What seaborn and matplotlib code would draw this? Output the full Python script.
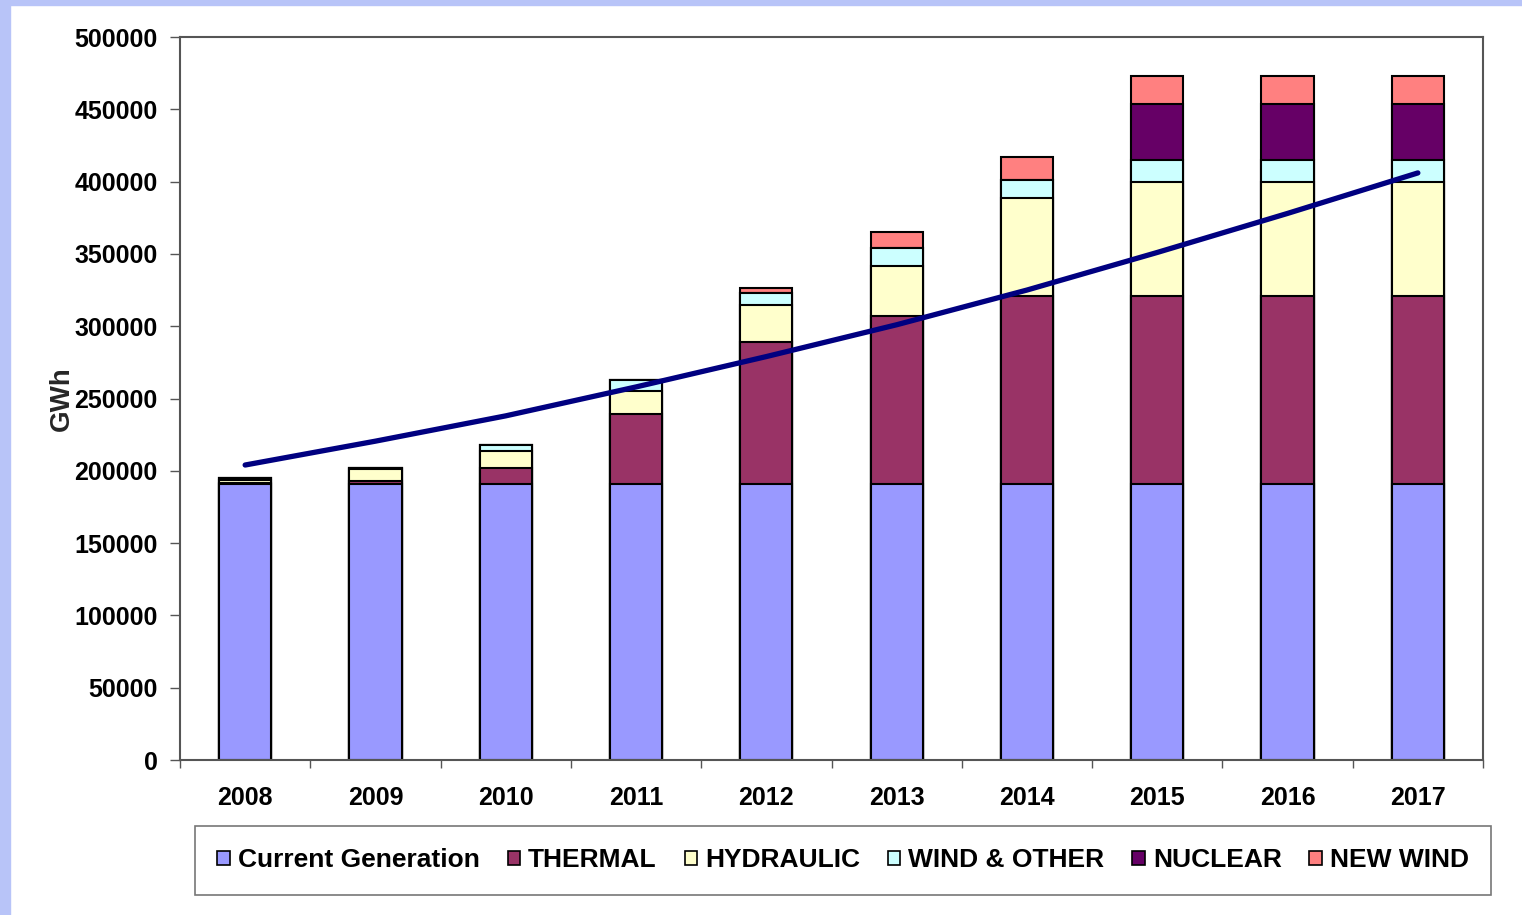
'''
Electricity generation forecast - stacked bars by source with demand line
'''
import numpy as np
import matplotlib
matplotlib.use('Agg')
import matplotlib.pyplot as plt
from matplotlib.patches import Patch, Rectangle
import seaborn as sns

years = ['2008', '2009', '2010', '2011', '2012', '2013', '2014', '2015', '2016', '2017']
current = [191000] * 10
thermal = [500, 2000, 11000, 48000, 98000, 116000, 130000, 130000, 130000, 130000]
hydraulic = [2000, 8000, 11500, 16000, 25500, 34600, 67700, 79000, 79000, 79000]
wind_other = [1500, 1000, 4000, 8000, 8500, 12400, 12300, 15000, 15000, 15000]
nuclear = [0, 0, 0, 0, 0, 0, 0, 39000, 39000, 39000]
new_wind = [0, 0, 0, 0, 3500, 11300, 16000, 19000, 19000, 19000]
demand = [204000, 220500, 238000, 258000, 279000, 301000, 325000, 351000, 378000, 406000]

series_names = ['Current Generation', 'THERMAL', 'HYDRAULIC', 'WIND & OTHER', 'NUCLEAR', 'NEW WIND']
series_colors = ['#9999FF', '#993366', '#FFFFCC', '#CCFFFF', '#660066', '#FF8080']


def plot_generation():
    sns.set_style('white')
    plt.rcParams['font.family'] = ['Liberation Sans', 'DejaVu Sans']
    plt.rcParams['font.weight'] = 'bold'
    plt.rcParams['text.color'] = 'black'
    plt.rcParams['xtick.labelcolor'] = 'black'
    plt.rcParams['ytick.labelcolor'] = 'black'

    fig = plt.figure(figsize=(15.22, 9.15), dpi=100)
    # bluish slide border on left / top
    fig.patches.append(Rectangle((0, 0), 10 / 1522, 1, transform=fig.transFigure,
                                 color='#B8C4F8', zorder=0))
    fig.patches.append(Rectangle((0, 1 - 5 / 915), 1, 5 / 915, transform=fig.transFigure,
                                 color='#B8C4F8', zorder=0))
    ax = fig.add_axes([180 / 1522, 155 / 915, 1303 / 1522, 723 / 915])

    layers = [current, thermal, hydraulic, wind_other, nuclear, new_wind]
    tops = np.cumsum(np.array(layers), axis=0)
    # draw cumulative totals from the top down so lower layers overlay
    for i in range(len(layers) - 1, -1, -1):
        sns.barplot(x=years, y=tops[i], color=series_colors[i], width=0.4,
                    saturation=1, edgecolor='black', linewidth=1.5,
                    errorbar=None, ax=ax)

    sns.lineplot(x=np.arange(len(years)), y=demand, color='#000080', linewidth=3.8,
                 sort=False, ax=ax, solid_capstyle='round')

    ax.set_xlim(-0.5, 9.5)
    ax.set_ylim(0, 500000)
    ax.set_yticks(np.arange(0, 500001, 50000))
    ax.set_yticklabels([str(v) for v in range(0, 500001, 50000)])
    ax.set_xticks(np.arange(-0.5, 10, 1), minor=True)
    ax.tick_params(axis='x', which='major', length=0, pad=19, labelsize=18)
    ax.tick_params(axis='x', which='minor', length=6, width=1, color='#555555',
                   direction='out', bottom=True)
    ax.tick_params(axis='y', length=7, width=1, color='#555555', direction='out',
                   left=True, pad=9, labelsize=18)
    for lbl in ax.get_xticklabels() + ax.get_yticklabels():
        lbl.set_fontweight('bold')
    for s in ax.spines.values():
        s.set_visible(True)
        s.set_color('#555555')
        s.set_linewidth(1.5)
    ax.set_xlabel('')
    ax.set_ylabel('GWh', fontsize=20, fontweight='bold', labelpad=0)

    handles = [Patch(facecolor=c, edgecolor='black', linewidth=1.2) for c in series_colors]
    leg = ax.legend(handles, series_names, loc='center', ncol=6,
                    bbox_to_anchor=(0.509, -0.139), frameon=True,
                    fancybox=False, edgecolor='#555555', handlelength=0.48,
                    handleheight=0.48, handletextpad=0.3, columnspacing=1.05,
                    borderpad=0.85, prop={'weight': 'bold', 'size': 19})
    leg.get_frame().set_linewidth(1.2)

    fig.savefig('out.png', dpi=100)


def main():
    plot_generation()


if __name__ == '__main__':
    main()
